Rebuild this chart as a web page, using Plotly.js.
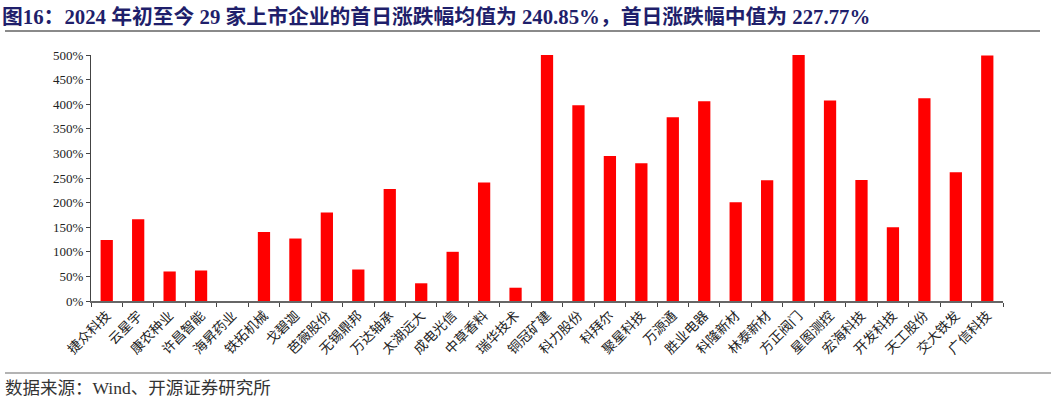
<!DOCTYPE html>
<html>
<head>
<meta charset="utf-8">
<script src="https://cdn.plot.ly/plotly-3.0.1.min.js"></script>
<style>
html,body{margin:0;padding:0;background:#fff;}
#chart{width:1058px;height:405px;}
</style>
</head>
<body>
<div id="chart"></div>
<script>
// Categories (companies)
const companies = ["捷众科技","云星宇","康农种业","许昌智能","海昇药业","铁拓机械","戈碧迦","芭薇股份","无锡鼎邦","万达轴承","太湖远大","成电光信","中草香料","瑞华技术","铜冠矿建","科力股份","科拜尔","聚星科技","万源通","胜业电器","科隆新材","林泰新材","方正阀门","星图测控","宏海科技","开发科技","天工股份","交大铁发","广信科技"];
// First-day change (%)
const firstDayChange = [124,166,60,62,0,140,127,180,64,227.77,36,100,240.6,27,500,398,294.7,280,373.4,405.9,200.6,245.3,500,407.3,246,149.8,412,261.6,499];
// Y tick values
const yTicks = [0,50,100,150,200,250,300,350,400,450,500];
const yTickText = yTicks.map(v => v + "%");

const titleText = "图16：2024 年初至今 29 家上市企业的首日涨跌幅均值为 240.85%，首日涨跌幅中值为 227.77%";
const sourceText = "数据来源：Wind、开源证券研究所";

const cjkSerif = "'Liberation Serif','Noto Sans CJK SC',serif";

const trace = {
  type: "bar",
  x: companies,
  y: firstDayChange,
  marker: {color: "#FF0000", line: {width: 0}},
  width: 0.39,
  hoverinfo: "x+y"
};

const layout = {
  width: 1058,
  height: 405,
  margin: {l: 91, r: 55, t: 55, b: 104},
  paper_bgcolor: "#fff",
  plot_bgcolor: "#fff",
  showlegend: false,
  xaxis: {
    type: "category",
    tickangle: -45,
    tickfont: {family: "'Noto Sans CJK SC',sans-serif", size: 13.5, color: "#222"},
    showline: true,
    linecolor: "#666",
    linewidth: 1.5,
    ticks: "outside",
    tickson: "boundaries",
    ticklen: 4,
    tickcolor: "#444",
    showgrid: false,
    zeroline: false,
    fixedrange: true
  },
  yaxis: {
    range: [0, 500],
    tickvals: yTicks,
    ticktext: yTickText,
    tickfont: {family: "'Liberation Serif',serif", size: 13, color: "#222"},
    showline: true,
    linecolor: "#444",
    linewidth: 1,
    ticks: "outside",
    ticklen: 4,
    tickcolor: "#444",
    showgrid: false,
    zeroline: false,
    fixedrange: true
  },
  annotations: [
    {
      xref: "paper", yref: "paper", x: -91/912, y: 1 + 38/246,
      xanchor: "left", yanchor: "middle",
      text: "<b>" + titleText + "</b>",
      showarrow: false,
      font: {family: cjkSerif, size: 20.8, color: "#1F1F6B"}
    },
    {
      xref: "paper", yref: "paper", x: -88/912, y: -87/246,
      xanchor: "left", yanchor: "middle",
      text: sourceText,
      showarrow: false,
      font: {family: cjkSerif, size: 17.5, color: "#333"}
    }
  ],
  shapes: [
    {type: "line", xref: "paper", yref: "paper", x0: -86/912, x1: (1040-91)/912, y0: 1 + 24/246, y1: 1 + 24/246,
     line: {color: "#8a8a8a", width: 2}},
    {type: "line", xref: "paper", yref: "paper", x0: -86/912, x1: (1051-91)/912, y0: -72/246, y1: -72/246,
     line: {color: "#9a9a9a", width: 1.5}}
  ]
};

Plotly.newPlot("chart", [trace], layout, {displayModeBar: false, staticPlot: true});
</script>
</body>
</html>
